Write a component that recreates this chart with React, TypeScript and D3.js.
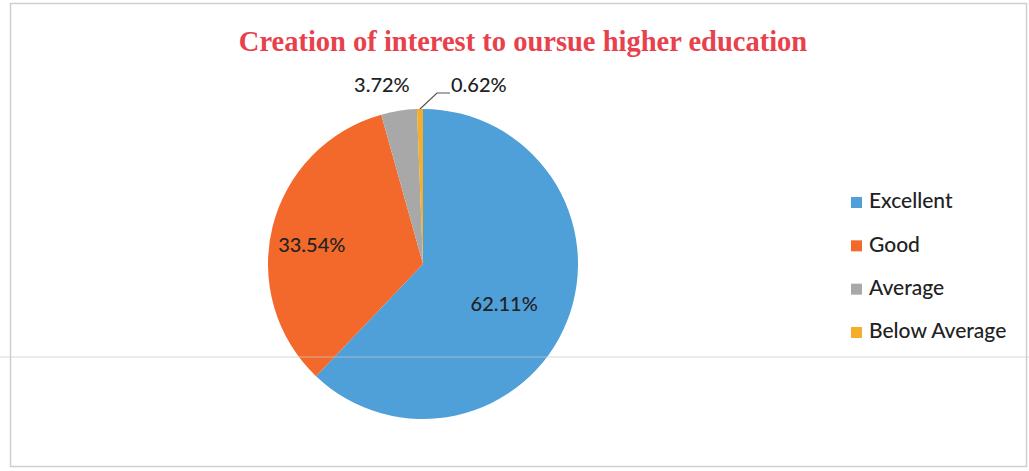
import React from "react";
import * as d3 from "d3";

const categories = ["Excellent", "Good", "Average", "Below Average"];
const values = [62.11, 33.54, 3.72, 0.62];
const labels = ["62.11%", "33.54%", "3.72%", "0.62%"];
const colors = ["#4f9fd8", "#f3692b", "#a9a8a8", "#f5ae2a"];
const title = "Creation of interest to oursue higher education";

export default function App() {
  const W = 1029, H = 471;
  const cx = 423, cy = 264, r = 155;
  const pie = d3.pie<number>().sort(null).value((d) => d)(values);
  const arc = d3.arc<d3.PieArcDatum<number>>().innerRadius(0).outerRadius(r);
  const labelArc = d3.arc<d3.PieArcDatum<number>>().innerRadius(r * 0.62).outerRadius(r * 0.62);

  const legendY = d3.scalePoint<string>().domain(categories).range([203, 333]);

  const labelFont = "Lato, 'Open Sans', sans-serif";

  return (
    <svg width={W} height={H} style={{ position: "absolute", left: 0, top: 0, background: "#fff" }}>
      <rect x={10.5} y={3.5} width={1016} height={463} fill="#fff" stroke="#cfcfcf" strokeWidth={1.5} />
      <text x={523} y={51} textAnchor="middle" fill="#e8414c" fontFamily="'Liberation Serif', 'Times New Roman', serif" fontWeight="bold" fontSize={28.5}>
        {title}
      </text>
      <g transform={`translate(${cx},${cy})`}>
        {pie.map((p, i) => (
          <path key={i} d={arc(p) || ""} fill={colors[i]} />
        ))}
        {pie.slice(0, 2).map((p, i) => {
          const [x, y] = labelArc.centroid(p);
          const off = i === 0 ? [-8, 6] : [-18, 6];
          return (
            <text key={i} x={x + off[0]} y={y + off[1]} textAnchor="middle" dominantBaseline="middle" fontFamily={labelFont} fontSize={20} fontWeight={500} fill="#222">
              {labels[i]}
            </text>
          );
        })}
      </g>
      {(() => {
        const p2 = pie[2];
        const a2 = (p2.startAngle + p2.endAngle) / 2;
        const p3 = pie[3];
        const a3 = (p3.startAngle + p3.endAngle) / 2;
        const ex = cx + Math.sin(a3) * r;
        const ey = cy - Math.cos(a3) * r;
        const lx2 = cx + Math.sin(a2) * (r + 26);
        return (
          <g>
            <text x={lx2 - 13} y={87} textAnchor="middle" dominantBaseline="middle" fontFamily={labelFont} fontSize={20} fontWeight={500} fill="#222">
              {labels[2]}
            </text>
            <polyline points={`${ex},${ey} ${437},${93} ${450},${93}`} fill="none" stroke="#555" strokeWidth={1.2} />
            <text x={451} y={87} textAnchor="start" dominantBaseline="middle" fontFamily={labelFont} fontSize={20} fontWeight={500} fill="#222">
              {labels[3]}
            </text>
          </g>
        );
      })()}
      {categories.map((c, i) => (
        <g key={c} transform={`translate(851,${legendY(c)})`}>
          <rect x={0} y={-6} width={11} height={11} fill={colors[i]} />
          <text x={18} y={0} dominantBaseline="middle" fontFamily={labelFont} fontSize={21} fontWeight={500} fill="#222">
            {c}
          </text>
        </g>
      ))}
      <line x1={0} x2={W} y1={357} y2={357} stroke="#c8c8c8" strokeWidth={1} opacity={0.7} />
    </svg>
  );
}
